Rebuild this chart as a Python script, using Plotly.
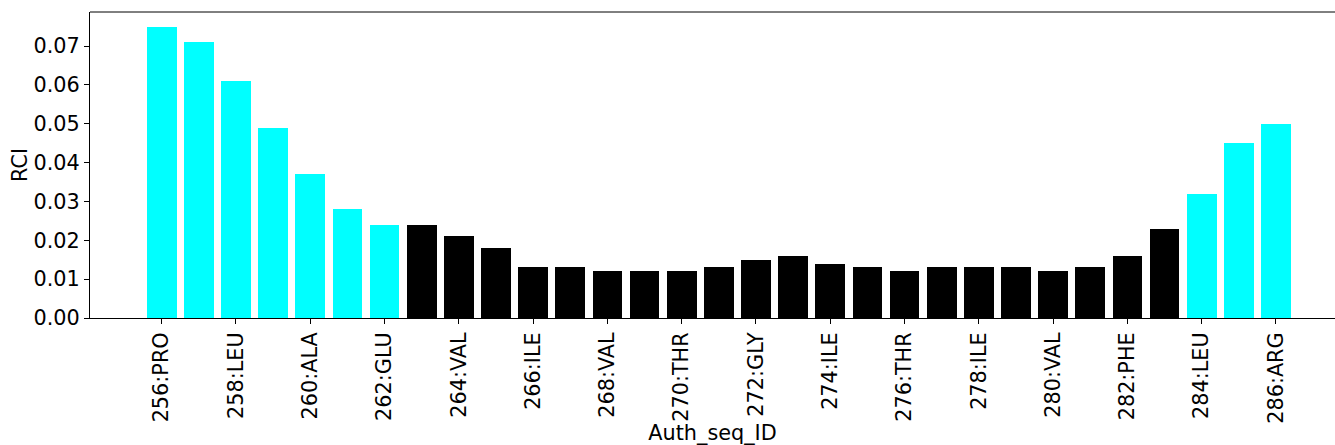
import plotly.graph_objects as go

residues = list(range(256, 287))
rci = [0.075, 0.071, 0.061, 0.049, 0.037, 0.028, 0.024, 0.024, 0.021, 0.018,
       0.013, 0.013, 0.012, 0.012, 0.012, 0.013, 0.015, 0.016, 0.014, 0.013,
       0.012, 0.013, 0.013, 0.013, 0.012, 0.013, 0.016, 0.023, 0.032, 0.045, 0.050]
cyan_residues = [256, 257, 258, 259, 260, 261, 262, 284, 285, 286]
tick_values = list(range(256, 287, 2))
tick_labels = ["256:PRO", "258:LEU", "260:ALA", "262:GLU", "264:VAL", "266:ILE",
               "268:VAL", "270:THR", "272:GLY", "274:ILE", "276:THR", "278:ILE",
               "280:VAL", "282:PHE", "284:LEU", "286:ARG"]
y_ticks = [0.0, 0.01, 0.02, 0.03, 0.04, 0.05, 0.06, 0.07]

colors = ["#00FFFF" if r in cyan_residues else "#000000" for r in residues]

fig = go.Figure(go.Bar(x=residues, y=rci, width=0.8, marker=dict(color=colors, line=dict(width=0))))

font = dict(family="DejaVu Sans", size=20.8, color="black")
fig.update_layout(
    width=1335, height=445,
    margin=dict(l=90, r=0, t=12, b=127, autoexpand=False),
    plot_bgcolor="white", paper_bgcolor="white",
    font=font, showlegend=False, bargap=0,
    xaxis=dict(range=[254.07, 287.59], tickmode="array", tickvals=tick_values,
               ticktext=tick_labels, tickangle=-90, ticks="outside", ticklen=5,
               tickcolor="black", showline=True, linecolor="black", linewidth=1,
               showgrid=False, zeroline=False, automargin=False,
               title=dict(text="Auth_seq_ID", font=font, standoff=0)),
    yaxis=dict(range=[0, 0.07875], tickmode="array", tickvals=y_ticks,
               ticktext=[f"{v:.2f}" for v in y_ticks], ticks="outside", ticklen=5,
               tickcolor="black", showline=True, linecolor="black", linewidth=1,
               showgrid=False, zeroline=False, automargin=False,
               title=dict(text="RCI", font=font, standoff=0)),
)
fig.add_shape(type="line", xref="paper", yref="paper", x0=0, x1=1, y0=1, y1=1,
              line=dict(color="black", width=1))
fig.write_html("out.html", config={"displayModeBar": False},
               post_script="document.body.style.margin='0';document.body.style.overflow='hidden';")
